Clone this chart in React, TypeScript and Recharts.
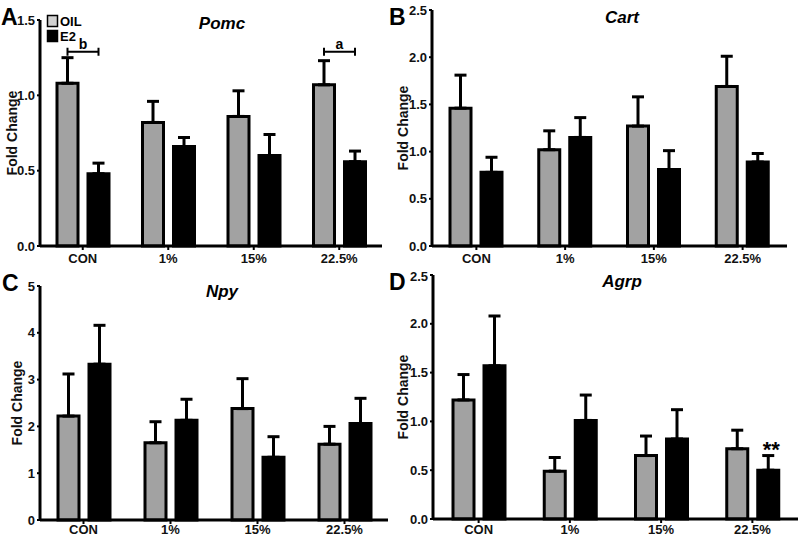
import React from 'react'
import { BarChart, Bar, XAxis, YAxis, ErrorBar, LabelList } from 'recharts'

const groups = ['CON', '1%', '15%', '22.5%']

// Pomc
const pomcOil = [1.08, 0.82, 0.86, 1.07]
const pomcOilSem = [0.17, 0.14, 0.17, 0.16]
const pomcE2 = [0.48, 0.66, 0.6, 0.56]
const pomcE2Sem = [0.07, 0.06, 0.14, 0.07]
const pomcOilMarks = ['b', '', '', 'a']
const pomcE2Marks = ['', '', '', '']

// Cart
const cartOil = [1.46, 1.02, 1.27, 1.69]
const cartOilSem = [0.35, 0.2, 0.31, 0.32]
const cartE2 = [0.78, 1.15, 0.81, 0.89]
const cartE2Sem = [0.16, 0.21, 0.2, 0.09]

// Npy
const npyOil = [2.22, 1.65, 2.38, 1.62]
const npyOilSem = [0.9, 0.45, 0.64, 0.38]
const npyE2 = [3.33, 2.13, 1.34, 2.06]
const npyE2Sem = [0.83, 0.45, 0.44, 0.54]

// Agrp
const agrpOil = [1.22, 0.49, 0.65, 0.72]
const agrpOilSem = [0.26, 0.14, 0.2, 0.19]
const agrpE2 = [1.57, 1.01, 0.82, 0.5]
const agrpE2Sem = [0.51, 0.26, 0.3, 0.15]
const agrpE2Marks = ['', '', '', '**']

const ticks25 = [0, 0.5, 1, 1.5, 2, 2.5]

const FONT = '"Liberation Sans", Arial, sans-serif'
const OIL_FILL = '#a2a2a2'
const BAR_SIZE = 21
const BAR_GAP = 10

const buildRows = (oil: number[], oilSem: number[], e2: number[], e2Sem: number[]) =>
  groups.map((g, i) => ({ group: g, oil: oil[i], oilSem: oilSem[i], e2: e2[i], e2Sem: e2Sem[i] }))

const geom = (p: any) => {
  const vb = p.viewBox || {}
  const x = Number(p.x ?? vb.x)
  const y = Number(p.y ?? vb.y)
  const width = Number(p.width ?? vb.width)
  const height = Number(p.height ?? vb.height)
  return { x, y, width, height }
}

// bracket between the two bars of a group, with a letter above it
const bracketLabel = (marks: string[], means: number[], level: number) => (p: any) => {
  const mark = marks[p.index]
  if (!mark) return null
  const { x, y, width, height } = geom(p)
  const unit = height / means[p.index]
  const by = y + height - level * unit
  const x1 = x + width / 2
  const x2 = x1 + width + BAR_GAP
  return (
    <g>
      <path d={`M${x1},${by}H${x2}M${x1},${by - 4}V${by + 4}M${x2},${by - 4}V${by + 4}`} stroke="#000" strokeWidth={2} fill="none" />
      <text x={(x1 + x2) / 2} y={by - 3} textAnchor="middle" fontFamily={FONT} fontWeight="bold" fontSize={14} fill="#000">{mark}</text>
    </g>
  )
}

// text above the error bar cap
const starLabel = (marks: string[], means: number[], sems: number[]) => (p: any) => {
  const mark = marks[p.index]
  if (!mark) return null
  const { x, y, width, height } = geom(p)
  const unit = height / means[p.index]
  const capY = y + height - (means[p.index] + sems[p.index]) * unit
  return (
    <text x={x + width / 2 + 3} y={capY + 1} textAnchor="middle" fontFamily={FONT} fontWeight="bold" fontSize={22} fill="#000">{mark}</text>
  )
}

const tickStyle = { fill: '#111', fontSize: 13, fontWeight: 'bold', fontFamily: FONT }

const YTitle = ({ viewBox, dx }: any) => {
  const cx = viewBox.x + dx
  const cy = viewBox.y + viewBox.height / 2
  return (
    <text x={cx} y={cy} transform={`rotate(-90, ${cx}, ${cy})`} textAnchor="middle" dominantBaseline="central"
      fontFamily={FONT} fontWeight="bold" fontSize={14} fill="#111">Fold Change</text>
  )
}

interface PanelProps {
  left: number
  top: number
  width: number
  height: number
  margin: { top: number; right: number; left: number; bottom: number }
  yWidth: number
  xHeight: number
  xMargin: number
  labelDx: number
  max: number
  ticks: number[]
  decimals: number
  rows: any[]
  oilLabel?: (p: any) => any
  e2Label?: (p: any) => any
}

function Panel(props: PanelProps) {
  const { left, top, width, height, margin, yWidth, xHeight, xMargin, labelDx, max, ticks, decimals, rows } = props
  return (
    <div style={{ position: 'absolute', left, top, width, height }}>
      <BarChart width={width} height={height} data={rows} margin={margin} barSize={BAR_SIZE} barGap={BAR_GAP}>
        <XAxis dataKey="group" height={xHeight} tick={tickStyle} tickSize={4} tickMargin={xMargin}
          axisLine={{ stroke: '#000', strokeWidth: 3 }} tickLine={{ stroke: '#000', strokeWidth: 2 }} interval={0} />
        <YAxis width={yWidth} domain={[0, max]} ticks={ticks} tick={tickStyle} tickSize={3} tickMargin={2}
          tickFormatter={(v: number) => v.toFixed(decimals)}
          axisLine={{ stroke: '#000', strokeWidth: 3 }} tickLine={{ stroke: '#000', strokeWidth: 2 }}
          label={{ content: (lp: any) => <YTitle {...lp} dx={labelDx} /> }} />
        <Bar dataKey="oil" name="OIL" fill={OIL_FILL} stroke="#000" strokeWidth={3} isAnimationActive={false}>
          <ErrorBar dataKey={(d: any) => [0, d.oilSem]} width={6} strokeWidth={3} stroke="#000" direction="y" />
          {props.oilLabel && <LabelList dataKey="oil" content={props.oilLabel} />}
        </Bar>
        <Bar dataKey="e2" name="E2" fill="#000" stroke="#000" strokeWidth={3} isAnimationActive={false}>
          <ErrorBar dataKey={(d: any) => [0, d.e2Sem]} width={6} strokeWidth={3} stroke="#000" direction="y" />
          {props.e2Label && <LabelList dataKey="e2" content={props.e2Label} />}
        </Bar>
      </BarChart>
    </div>
  )
}

export default function App() {
  const letter = { fontFamily: FONT, fontWeight: 'bold' as const, fontSize: 23, fill: '#000' }
  const title = { fontFamily: FONT, fontWeight: 'bold' as const, fontStyle: 'italic' as const, fontSize: 17, fill: '#000' }
  return (
    <div style={{ position: 'absolute', left: 0, top: 0, width: 800, height: 537, background: '#fff', overflow: 'hidden' }}>
      <Panel left={0} top={0} width={400} height={268} margin={{ top: 20, right: 18, left: 0, bottom: 0 }}
        yWidth={40} xHeight={22} xMargin={4} labelDx={12} max={1.5} ticks={[0, 0.5, 1, 1.5]} decimals={1}
        rows={buildRows(pomcOil, pomcOilSem, pomcE2, pomcE2Sem)}
        oilLabel={bracketLabel(pomcOilMarks, pomcOil, 1.29)}
        e2Label={bracketLabel(pomcE2Marks, pomcE2, 1.29)} />
      <Panel left={390} top={0} width={410} height={268} margin={{ top: 10, right: 13, left: 0, bottom: 0 }}
        yWidth={42} xHeight={22} xMargin={4} labelDx={13} max={2.5} ticks={ticks25} decimals={1}
        rows={buildRows(cartOil, cartOilSem, cartE2, cartE2Sem)} />
      <Panel left={0} top={268} width={400} height={269} margin={{ top: 18, right: 12, left: 0, bottom: 0 }}
        yWidth={40} xHeight={17} xMargin={1} labelDx={17} max={5} ticks={[0, 1, 2, 3, 4, 5]} decimals={0}
        rows={buildRows(npyOil, npyOilSem, npyE2, npyE2Sem)} />
      <Panel left={390} top={268} width={410} height={269} margin={{ top: 7, right: 2, left: 0, bottom: 0 }}
        yWidth={43} xHeight={18} xMargin={2} labelDx={13} max={2.5} ticks={ticks25} decimals={1}
        rows={buildRows(agrpOil, agrpOilSem, agrpE2, agrpE2Sem)}
        e2Label={starLabel(agrpE2Marks, agrpE2, agrpE2Sem)} />
      <svg width={800} height={537} style={{ position: 'absolute', left: 0, top: 0, pointerEvents: 'none' }}>
        <text x={1} y={25} {...letter}>A</text>
        <text x={389} y={25} {...letter}>B</text>
        <text x={2} y={291} {...letter}>C</text>
        <text x={389} y={290} {...letter}>D</text>
        <text x={222} y={29} textAnchor="middle" {...title}>Pomc</text>
        <text x={622} y={23} textAnchor="middle" {...title}>Cart</text>
        <text x={222} y={297} textAnchor="middle" {...title}>Npy</text>
        <text x={622} y={287} textAnchor="middle" {...title}>Agrp</text>
        <rect x={47.5} y={15.5} width={10} height={11} fill="#d2d2d2" stroke="#000" strokeWidth={1.5} />
        <rect x={47.5} y={30.5} width={10} height={11} fill="#000" stroke="#000" strokeWidth={1.5} />
        <text x={60} y={26} fontFamily={FONT} fontWeight="bold" fontSize={13} fill="#000">OIL</text>
        <text x={60} y={41} fontFamily={FONT} fontWeight="bold" fontSize={13} fill="#000">E2</text>
      </svg>
    </div>
  )
}
